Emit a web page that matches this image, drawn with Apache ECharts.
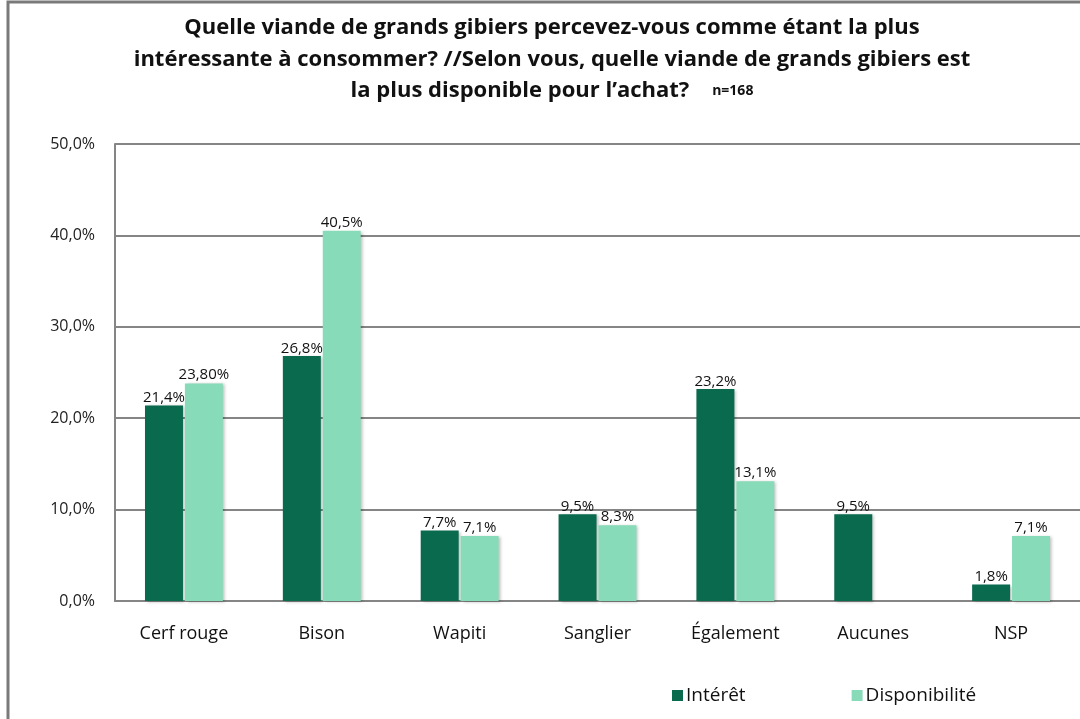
<!DOCTYPE html>
<html lang="fr">
<head>
  <meta charset="UTF-8">
  <title>Viande de grands gibiers</title>
  <script src="https://cdn.jsdelivr.net/npm/echarts@6/dist/echarts.min.js"></script>
  <style>
    html, body { margin: 0; padding: 0; background: #fff; }
    #chart { width: 1080px; height: 719px; }
  </style>
</head>
<body>
  <div id="chart"></div>
  <script>
    // données
    var categories = ['Cerf rouge', 'Bison', 'Wapiti', 'Sanglier', 'Également', 'Aucunes', 'NSP']
    var interet = [21.4, 26.8, 7.7, 9.5, 23.2, 9.5, 1.8]
    var dispo = [23.8, 40.5, 7.1, 8.3, 13.1, null, 7.1]
    var dispoLabels = ['23,80%', '40,5%', '7,1%', '8,3%', '13,1%', '', '7,1%']
    var yTicks = [0, 10, 20, 30, 40, 50]

    var fmt = function (v) { return v.toFixed(1).replace('.', ',') + '%' }
    var font = '"Open Sans", Lato, sans-serif'

    var chart = echarts.init(document.getElementById('chart'))

    var barShadow = {
      shadowColor: 'rgba(0,0,0,0.25)',
      shadowBlur: 3,
      shadowOffsetX: 2,
      shadowOffsetY: 1
    }

    var option = {
      animation: false,
      textStyle: { fontFamily: font },
      graphic: [{
        type: 'rect',
        shape: { x: 8, y: 2, width: 1200, height: 800 },
        style: { fill: 'none', stroke: '#7a7a7a', lineWidth: 3 },
        silent: true
      }],
      title: {
        text: 'Quelle viande de grands gibiers percevez-vous comme étant la plus\n' +
              'intéressante à consommer? //Selon vous, quelle viande de grands gibiers est\n' +
              'la plus disponible pour l’achat?    {n|n=168}',
        left: 547,
        top: 7,
        textAlign: 'center',
        textStyle: {
          fontFamily: font,
          fontWeight: 'bold',
          fontSize: 22,
          lineHeight: 31.5,
          color: '#111',
          rich: {
            n: { fontFamily: font, fontWeight: 'bold', fontSize: 14, color: '#111' }
          }
        }
      },
      legend: {
        data: ['Intérêt', 'Disponibilité'],
        left: 667,
        top: 681,
        itemWidth: 11,
        itemHeight: 11,
        itemGap: 106,
        icon: 'rect',
        textStyle: { fontFamily: font, fontSize: 19, color: '#111', padding: [0, 0, 0, -2] }
      },
      grid: {
        left: 115,
        right: -1,
        top: 144,
        bottom: 118,
        containLabel: false
      },
      xAxis: {
        type: 'category',
        data: categories,
        axisLine: { lineStyle: { color: '#858585', width: 2 } },
        axisTick: { show: false },
        axisLabel: { fontFamily: font, fontSize: 18, color: '#111', margin: 24 }
      },
      yAxis: {
        type: 'value',
        min: yTicks[0],
        max: yTicks[yTicks.length - 1],
        interval: 10,
        axisLine: { show: true, lineStyle: { color: '#858585', width: 2 } },
        axisTick: { show: false },
        splitLine: { lineStyle: { color: '#858585', width: 2 } },
        axisLabel: {
          fontFamily: font, fontSize: 16, color: '#222', margin: 20,
          formatter: function (v) { return fmt(v) }
        }
      },
      series: [
        {
          name: 'Intérêt',
          type: 'bar',
          data: interet,
          barWidth: 38,
          barGap: '5%',
          itemStyle: Object.assign({ color: '#0a6a4e' }, barShadow),
          label: {
            show: true, position: 'top', distance: 0,
            fontFamily: font, fontSize: 15, color: '#111',
            formatter: function (p) { return fmt(p.value) }
          }
        },
        {
          name: 'Disponibilité',
          type: 'bar',
          data: dispo,
          barWidth: 38,
          itemStyle: Object.assign({ color: '#88dbb8' }, barShadow),
          label: {
            show: true, position: 'top', distance: 1,
            fontFamily: font, fontSize: 15, color: '#111',
            formatter: function (p) { return dispoLabels[p.dataIndex] }
          }
        }
      ]
    }

    chart.setOption(option)
  </script>
</body>
</html>
